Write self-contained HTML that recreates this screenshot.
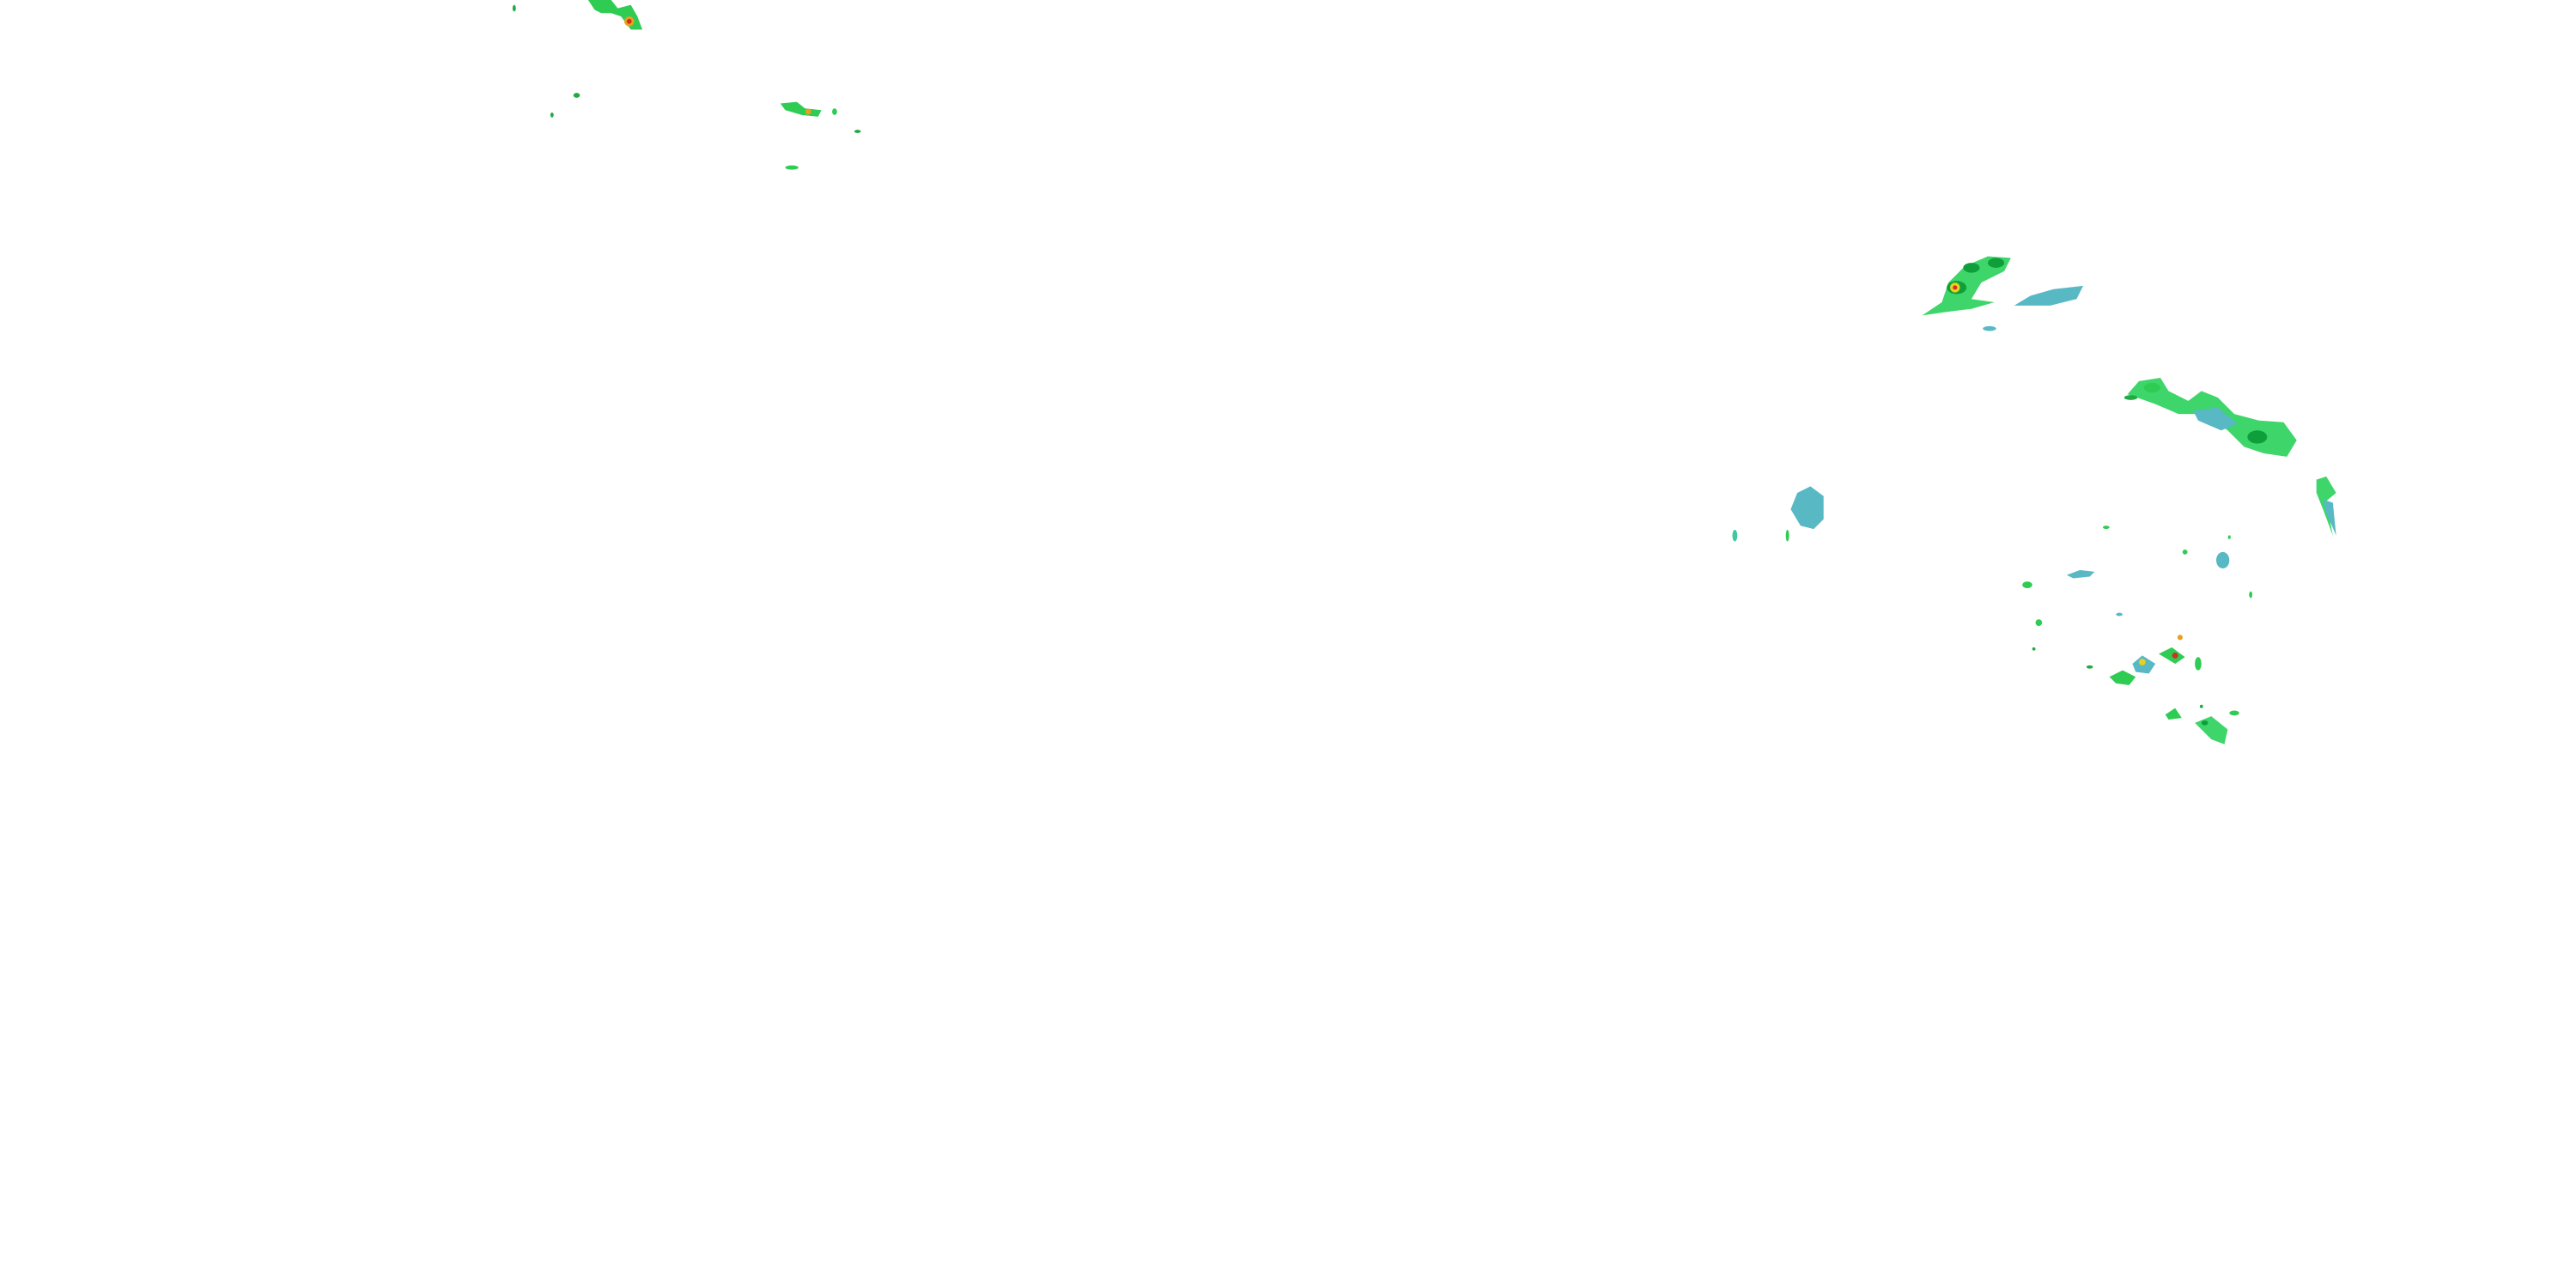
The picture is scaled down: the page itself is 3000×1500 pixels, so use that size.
<!DOCTYPE html>
<html><head><meta charset="utf-8"><style>
html,body{margin:0;padding:0;background:#fff;width:3000px;height:1500px;overflow:hidden}
svg{display:block}
</style></head><body>
<svg width="3000" height="1500" viewBox="0 0 1568 784" preserveAspectRatio="none" xmlns="http://www.w3.org/2000/svg">
<g>
<!-- top-left cluster -->
<path d="M358,0 L372,0 L376,5 L384,3 L388,10 L391,18 L384,18 L378,10 L372,8 L366,8 L362,6 Z" fill="#2ecc52"/>
<circle cx="383" cy="13" r="3" fill="#e8a020"/>
<circle cx="383" cy="13" r="1.5" fill="#d03020"/>
<ellipse cx="313" cy="5" rx="1" ry="2" fill="#22aa44"/>
<ellipse cx="351" cy="58" rx="2" ry="1.5" fill="#22aa44"/>
<ellipse cx="336" cy="70" rx="1" ry="1.5" fill="#22aa44"/>
<path d="M475,63 L485,62 L490,66 L500,67 L498,71 L488,70 L478,67 Z" fill="#2ecc52"/>
<circle cx="492" cy="68" r="1.8" fill="#e8a020"/>
<ellipse cx="508" cy="68" rx="1.5" ry="2" fill="#2ecc52"/>
<ellipse cx="522" cy="80" rx="2" ry="1" fill="#22aa44"/>
<ellipse cx="482" cy="102" rx="4" ry="1.3" fill="#2ecc52"/>

<!-- right upper cluster -->
<path d="M1170,192 L1182,184 L1186,172 L1196,162 L1210,156 L1224,157 L1220,165 L1206,172 L1200,182 L1214,184 L1200,188 L1184,190 Z" fill="#3ed66a"/>
<ellipse cx="1200" cy="163" rx="5" ry="3" fill="#0f9f3a"/>
<ellipse cx="1215" cy="160" rx="5" ry="3" fill="#0f9f3a"/>
<ellipse cx="1191" cy="175" rx="6" ry="4" fill="#0f9f3a"/>
<circle cx="1190" cy="175" r="3" fill="#e8d020"/>
<circle cx="1190" cy="175" r="1.3" fill="#d03020"/>
<path d="M1226,186 L1236,180 L1250,176 L1268,174 L1264,182 L1248,186 Z" fill="#58b8c4"/>
<ellipse cx="1211" cy="200" rx="4" ry="1.5" fill="#58b8c4"/>

<!-- right middle cluster -->
<path d="M1295,240 L1302,232 L1315,230 L1320,238 L1332,244 L1340,238 L1350,242 L1360,252 L1375,256 L1390,257 L1398,268 L1392,278 L1378,276 L1366,272 L1356,262 L1342,252 L1326,252 L1312,246 Z" fill="#3ed66a"/>
<path d="M1335,250 L1350,248 L1362,258 L1352,262 L1338,256 Z" fill="#58b8c4"/>
<ellipse cx="1374" cy="266" rx="6" ry="4" fill="#0f9f3a"/>
<ellipse cx="1310" cy="236" rx="5" ry="3" fill="#2ecc52"/>
<ellipse cx="1297" cy="242" rx="4" ry="1.5" fill="#22aa44"/>
<path d="M1410,292 L1416,290 L1422,300 L1416,305 L1420,326 L1414,310 L1410,300 Z" fill="#3ed66a"/>
<path d="M1414,304 L1420,306 L1422,326 L1416,312 Z" fill="#58b8c4"/>

<!-- cyan blob -->
<path d="M1090,310 L1094,300 L1102,296 L1110,302 L1110,316 L1104,322 L1096,320 Z" fill="#58b8c4"/>
<ellipse cx="1056" cy="326" rx="1.5" ry="3.5" fill="#3ec8a0"/>
<ellipse cx="1088" cy="326" rx="1" ry="3.5" fill="#2ecc52"/>

<!-- scattered small -->
<ellipse cx="1282" cy="321" rx="2" ry="1" fill="#2ecc52"/>
<ellipse cx="1330" cy="336" rx="1.5" ry="1.5" fill="#2ecc52"/>
<ellipse cx="1353" cy="341" rx="4" ry="5" fill="#58b8c4"/>
<ellipse cx="1357" cy="327" rx="0.8" ry="1.2" fill="#2ecc52"/>
<ellipse cx="1370" cy="362" rx="1" ry="2" fill="#2ecc52"/>
<path d="M1258,350 L1266,347 L1275,348 L1272,351 L1262,352 Z" fill="#58b8c4"/>
<ellipse cx="1234" cy="356" rx="3" ry="2" fill="#2ecc52"/>
<ellipse cx="1241" cy="379" rx="2" ry="2" fill="#2ecc52"/>
<ellipse cx="1290" cy="374" rx="2" ry="1" fill="#58b8c4"/>
<ellipse cx="1238" cy="395" rx="1" ry="1" fill="#22aa44"/>
<path d="M1284,412 L1292,408 L1300,412 L1296,417 L1288,416 Z" fill="#2ecc52"/>
<ellipse cx="1272" cy="406" rx="2" ry="1" fill="#22aa44"/>
<path d="M1298,404 L1304,399 L1312,404 L1308,410 L1300,409 Z" fill="#58b8c4"/>
<circle cx="1304" cy="403" r="2" fill="#e8d020"/>
<path d="M1314,398 L1322,394 L1330,400 L1324,404 Z" fill="#2ecc52"/>
<circle cx="1324" cy="399" r="1.8" fill="#d03020"/>
<circle cx="1327" cy="388" r="1.6" fill="#e8a020"/>
<ellipse cx="1338" cy="404" rx="2" ry="4" fill="#2ecc52"/>
<path d="M1318,435 L1324,431 L1328,437 L1320,438 Z" fill="#2ecc52"/>
<path d="M1336,440 L1346,436 L1356,444 L1354,453 L1346,450 L1340,444 Z" fill="#3ed66a"/>
<ellipse cx="1342" cy="440" rx="2" ry="1.5" fill="#0f9f3a"/>
<ellipse cx="1360" cy="434" rx="3" ry="1.5" fill="#2ecc52"/>
<ellipse cx="1340" cy="430" rx="1" ry="1" fill="#22aa44"/>
</g>
</svg>
</body></html>
